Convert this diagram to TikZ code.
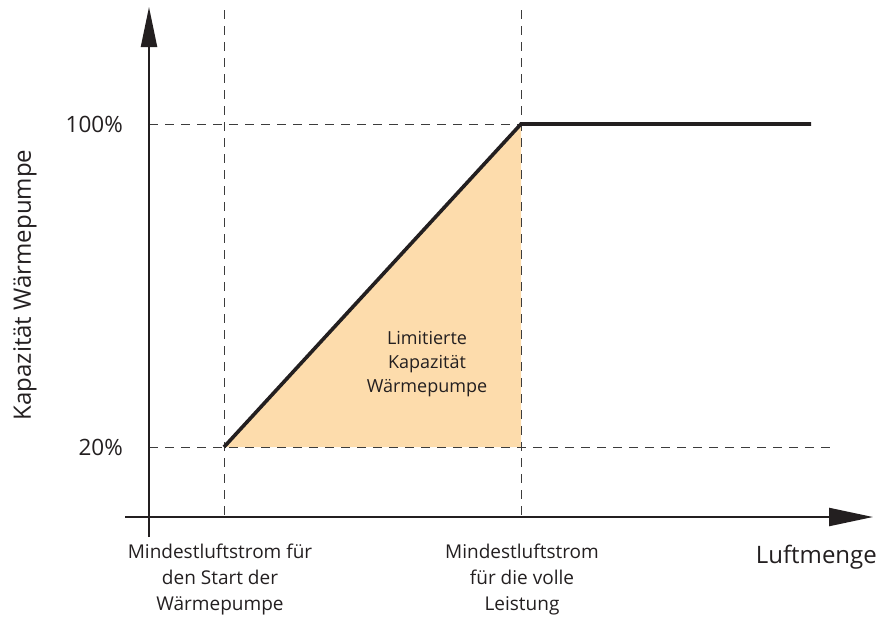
\documentclass[tikz,border=0pt]{standalone}
\usepackage{fontspec}
\setmainfont{Open Sans}
\usetikzlibrary{arrows.meta}
\definecolor{fillorange}{RGB}{253,220,172}
\definecolor{axisgray}{RGB}{35,31,32}
\definecolor{dashgray}{RGB}{60,60,60}
\tikzset{
  axisline/.style={draw=axisgray, line width=2.2pt},
  guide/.style={draw=dashgray, line width=1pt, dash pattern=on 9pt off 7pt},
  curve/.style={draw=axisgray, line width=3.6pt, line join=miter},
  lbl/.style={font=\fontsize{19}{26}\selectfont, text=axisgray, align=center, inner sep=0pt},
  biglbl/.style={font=\fontsize{22.5}{26}\selectfont, text=axisgray, inner sep=0pt},
  axlbl/.style={font=\fontsize{24}{26}\selectfont, text=axisgray, inner sep=0pt},
  inlbl/.style={font=\fontsize{18}{24}\selectfont, text=axisgray, align=center, inner sep=0pt},
  tip/.style={-{Triangle[length=40pt,width=16pt]}}
}
\begin{document}
\begin{tikzpicture}[x=1pt,y=-1pt]
\useasboundingbox (0,0) rectangle (877,616);
% coordinates
\coordinate (ybot) at (149,537);
\coordinate (ytop) at (149,7);
\coordinate (xleft) at (125,517);
\coordinate (xright) at (873,517);
\coordinate (p20) at (224,447);
\coordinate (p100) at (521,124);
\coordinate (pc) at (521,447);
\coordinate (pend) at (811,124);
\coordinate (v1t) at (224,10);
\coordinate (v1b) at (224,521);
\coordinate (v2t) at (521,10);
\coordinate (v2b) at (521,521);
\coordinate (h1l) at (149,124);
\coordinate (h2l) at (149,447);
\coordinate (h2r) at (832,447);
% fill
\fill[fillorange] (p20) -- (p100) -- (pc) -- cycle;
% guides
\draw[guide] (v1t) -- (v1b);
\draw[guide] (v2t) -- (v2b);
\draw[guide] (h1l) -- (p100);
\draw[guide] (h2l) -- (h2r);
% axes
\draw[axisline, tip] (ybot) -- (ytop);
\draw[axisline, -{Triangle[length=44pt,width=18pt]}] (xleft) -- (xright);
% curve
\draw[curve] (p20) -- (p100) -- (pend);
% labels
\node[biglbl, anchor=east] (l100) at (123,124) {100\%};
\node[biglbl, anchor=east] (l20) at (123,447) {20\%};
\node[axlbl, rotate=90] (ylab) at (25,285) {Kapazität Wärmepumpe};
\node[axlbl, anchor=base east] (xlab) at (877,563) {Luftmenge};
\node[inlbl] (mid) at (427,364) {Limitierte\\Kapazität\\Wärmepumpe};
\node[lbl] (b1) at (220,580) {Mindestluftstrom für\\den Start der\\Wärmepumpe};
\node[lbl] (b2) at (522,580) {Mindestluftstrom\\für die volle\\Leistung};
\end{tikzpicture}
\end{document}
